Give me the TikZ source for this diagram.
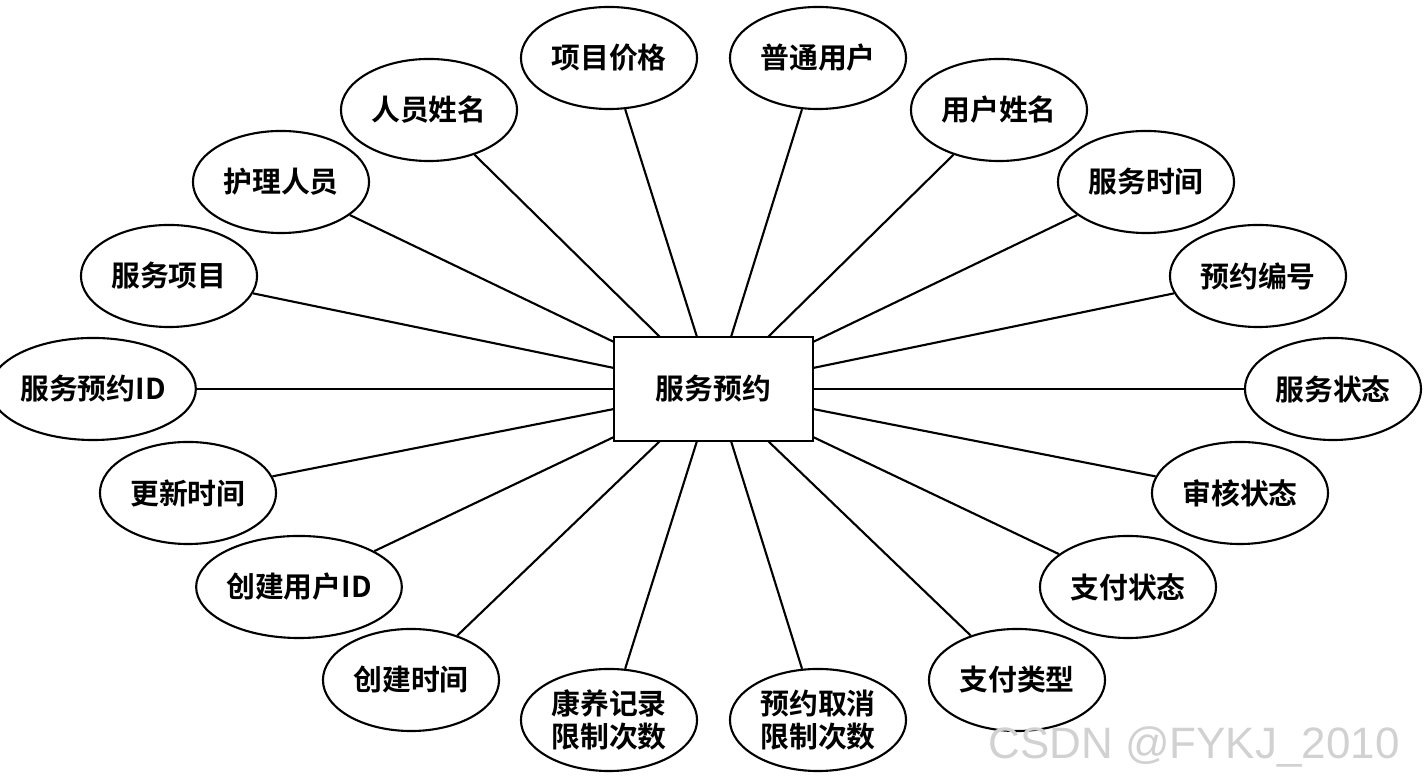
\documentclass[tikz,border=0pt]{standalone}
\usepackage{fontspec}
\setmainfont{Noto Sans CJK SC}[BoldFont={* Bold}]
\newfontfamily\wm{Liberation Sans}
\usetikzlibrary{shapes.geometric}
\begin{document}
\begin{tikzpicture}[x=0.01cm,y=-0.01cm,
  attr/.style={ellipse,draw,line width=0.6pt,minimum width=1.76cm,minimum height=1.02cm,inner sep=0pt,font=\fontsize{8.2}{9.5}\selectfont\bfseries,align=center},
  ln/.style={line width=0.6pt}]
\useasboundingbox (0,0) rectangle (1426,777);
\node[draw,line width=0.6pt,minimum width=1.99cm,minimum height=1.04cm,font=\fontsize{8.2}{9.5}\selectfont\bfseries] (c) at (713.5,389) {服务预约};
\foreach \n/\x/\y/\t in {a1/609/58/项目价格,a2/818/58/普通用户,a3/429/110/人员姓名,a4/999/110/用户姓名,a5/281/182/护理人员,a6/1146/182/服务时间,a7/169/276/服务项目,a8/1258/276/预约编号,a9/93/389/服务预约ID,a10/1333/389/服务状态,a11/188/493/更新时间,a12/1240/493/审核状态,a13/299/587/创建用户ID,a14/1128/587/支付状态,a15/411/680/创建时间,a16/1017/680/支付类型,a17/609/720/康养记录\\限制次数,a18/818/720/预约取消\\限制次数}
  \node[attr] (\n) at (\x,\y) {\t};
\foreach \n/\x/\y in {p1/697/337,p2/731/337,p3/660/337,p4/768/337,p5/614/342,p6/813/342,p7/614/368,p8/813/368,p9/614/389,p10/813/389,p11/614/409,p12/813/409,p13/614/437,p14/813/437,p15/660/441,p16/768/441,p17/697/441,p18/731/441}
  \coordinate (\n) at (\x,\y);
\foreach \i in {1,...,18} \draw[ln] (a\i) -- (p\i);
\node[text=black!18,font=\wm\fontsize{12.5}{14}\selectfont,anchor=east] (w) at (1412,747) {CSDN @FYKJ\_2010};
\end{tikzpicture}
\end{document}
